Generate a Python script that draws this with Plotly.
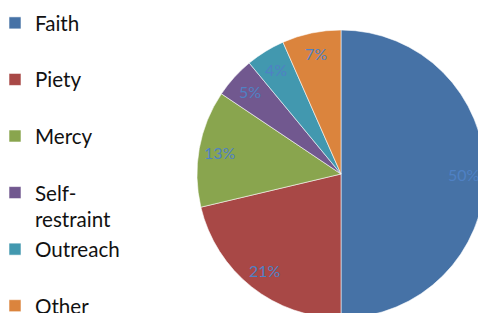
import math
import plotly.graph_objects as go

labels = ["Faith", "Piety", "Mercy", "Self-restraint", "Outreach", "Other"]
values = [50.0, 21.3, 13.1, 4.6, 4.4, 6.6]
colors = ["#4672a6", "#a84846", "#89a54e", "#71588f", "#4298af", "#db843d"]
legend_names = ["Faith<br>\u00a0", "Piety<br>\u00a0", "Mercy<br>\u00a0",
                "Self-<br>restraint", "Outreach<br>\u00a0", "Other<br>\u00a0"]

W, H = 486, 319
L, R, T, B = 197, 1, 30, 1
PW, PH = W - L - R, H - T - B

fig = go.Figure(go.Pie(
    labels=legend_names,
    values=values,
    sort=False,
    direction="clockwise",
    rotation=0,
    marker=dict(colors=colors, line=dict(color="rgba(255,255,255,0.7)", width=0.8)),
    textinfo="none",
    hoverinfo="label+percent",
))

total = sum(values)
cum = 0.0
annotations = []
for v in values:
    mid = (cum + v / 2) / total * 2 * math.pi
    cum += v
    r = 0.428
    annotations.append(dict(
        x=0.5 + r * math.sin(mid), y=0.5 + r * math.cos(mid),
        xref="paper", yref="paper", showarrow=False,
        text=f"{round(v / total * 100)}%",
        font=dict(family="Lato", size=16, color="#4f81c4"),
        xanchor="center", yanchor="middle",
    ))

fig.update_layout(
    width=W, height=H,
    margin=dict(l=L, r=R, t=T, b=B, pad=0, autoexpand=False),
    paper_bgcolor="white", plot_bgcolor="white",
    showlegend=True,
    legend=dict(
        x=(-5 - L) / PW, y=1 + (T - 3) / PH,
        xanchor="left", yanchor="top",
        font=dict(family="Lato", size=20.6, color="#111111"),
        valign="top", itemclick=False, bgcolor="rgba(0,0,0,0)",
        tracegroupgap=0, maxheight=420,
    ),
    annotations=annotations,
)

fig.write_html("out.html", config={"displayModeBar": False}, post_script=
    "document.documentElement.style.overflow='hidden';"
    "document.body.style.overflow='hidden';document.body.style.margin='0';")
